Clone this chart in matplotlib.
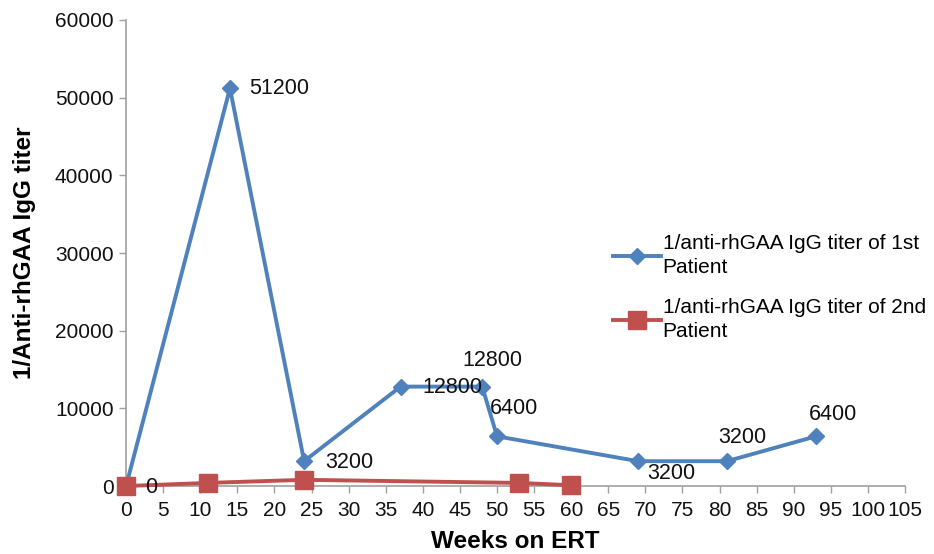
import numpy as np
from matplotlib import pyplot as plt

plt.rcParams['font.family'] = ['Liberation Sans', 'DejaVu Sans']

# data
weeks_1 = [0, 14, 24, 37, 48, 50, 69, 81, 93]
titer_1 = [0, 51200, 3200, 12800, 12800, 6400, 3200, 3200, 6400]
weeks_2 = [0, 11, 24, 53, 60]
titer_2 = [0, 400, 800, 400, 100]

labels_1 = ['0', '51200', '3200', '12800', '12800', '6400', '3200', '3200', '6400']
# offsets in points for each value label
offsets_1 = [(14, -1), (14, 0), (15, -1), (16, -1), (-14, 19), (-5, 20), (6.5, -9), (-6, 17), (-5, 16)]

fig = plt.figure(figsize=(9.34, 5.54), dpi=100)
ax = fig.add_axes([0.135, 0.1227, 0.834, 0.8412])

blue = '#4F81BD'
red = '#C0504D'

ax.plot(weeks_1, titer_1, color=blue, lw=2.8, marker='D', ms=8.5, zorder=3, clip_on=False,
        label='1/anti-rhGAA IgG titer of 1st\nPatient')
ax.plot(weeks_2, titer_2, color=red, lw=2.8, marker='s', ms=13, zorder=4, clip_on=False,
        label='1/anti-rhGAA IgG titer of 2nd\nPatient')

for x, y, t, off in zip(weeks_1, titer_1, labels_1, offsets_1):
    ax.annotate(t, (x, y), xytext=off, textcoords='offset points',
                ha='left', va='center', fontsize=15.5, color='#111111', zorder=5)

ax.set_xlim(0, 105)
ax.set_ylim(0, 60000)
ax.set_xticks(np.arange(0, 106, 5))
ax.set_yticks(np.arange(0, 60001, 10000))
ax.tick_params(axis='both', labelsize=15, color='#A0A0A0', length=5, width=1, labelcolor='#111111')
ax.tick_params(axis='x', pad=6)
ax.tick_params(axis='y', pad=4)

for s in ['top', 'right']:
    ax.spines[s].set_visible(False)
for s in ['left', 'bottom']:
    ax.spines[s].set_color('#A0A0A0')
    ax.spines[s].set_linewidth(1.2)

ax.set_xlabel('Weeks on ERT', fontsize=17.5, fontweight='bold', labelpad=7)
ax.set_ylabel('1/Anti-rhGAA IgG titer', fontsize=17.5, fontweight='bold', labelpad=14)

leg = ax.legend(loc='upper left', bbox_to_anchor=(0.656, 0.578), bbox_transform=fig.transFigure,
                frameon=False, fontsize=15, handlelength=2.3, handletextpad=0.1,
                labelspacing=1.0, borderpad=0, borderaxespad=0)
for t in leg.get_texts():
    t.set_linespacing(1.35)

plt.savefig('out.png', dpi=100)
